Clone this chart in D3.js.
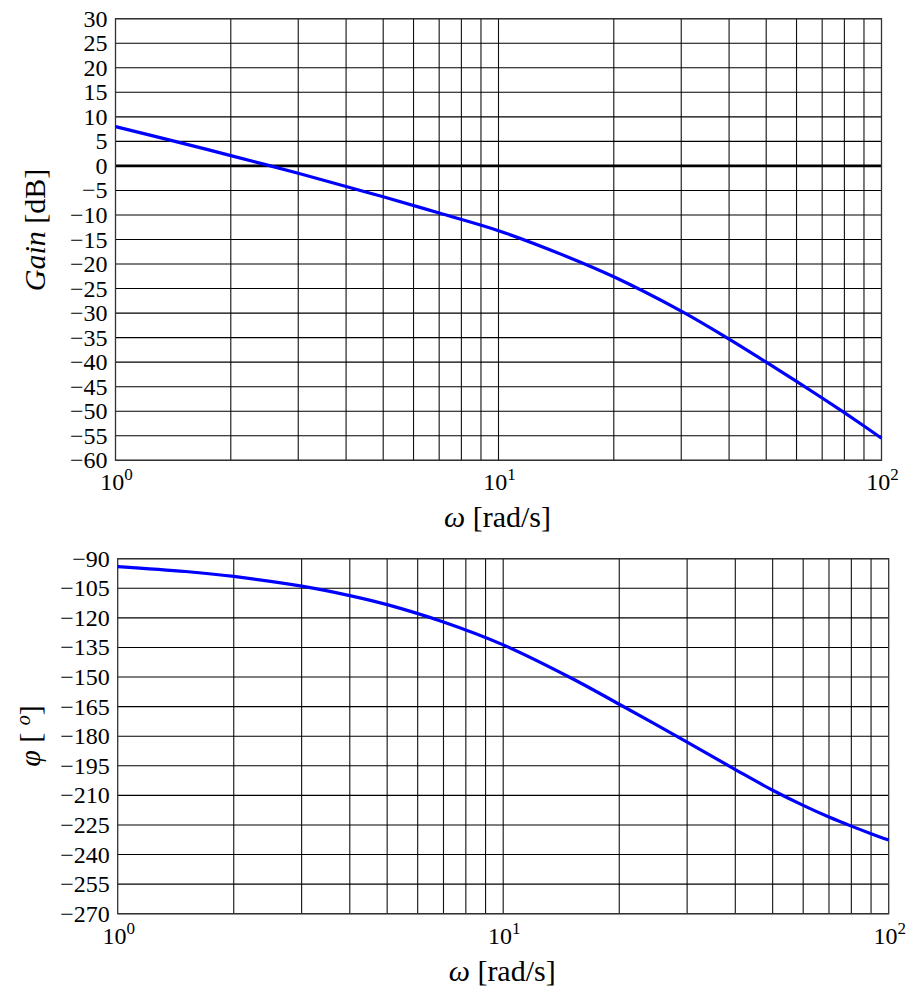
<!DOCTYPE html>
<html>
<head>
<meta charset="utf-8">
<script src="https://cdn.jsdelivr.net/npm/d3@7"></script>
<style>
  body { margin: 0; background: #fff; }
  svg text { font-family: "Liberation Serif", "DejaVu Serif", serif; fill: #000; }
</style>
</head>
<body>
<svg id="chart" width="906" height="988"></svg>
<script>
// values
var omega = [1, 1.5, 2, 3, 4, 5, 7, 10, 15, 20, 30, 40, 50, 60, 70, 80, 90, 100];
var gainDb = [8.0, 4.6, 2.1, -1.5, -4.2, -6.3, -9.6, -13.2, -18.4, -22.6, -29.6, -35.3, -40.0, -43.9, -47.3, -50.3, -53.0, -55.5];
var phaseDeg = [-94, -96.5, -99.0, -103.9, -108.7, -113.3, -122.1, -133.7, -150.5, -163.8, -183.0, -196.9, -207.4, -215.1, -221.0, -225.6, -229.4, -232.6];

var gainTicks = [30, 25, 20, 15, 10, 5, 0, -5, -10, -15, -20, -25, -30, -35, -40, -45, -50, -55, -60];
var phaseTicks = [-90, -105, -120, -135, -150, -165, -180, -195, -210, -225, -240, -255, -270];
var decades = [1, 10, 100];
var decadeExp = ["0", "1", "2"];
var gridFreqs = [2, 3, 4, 5, 6, 7, 8, 9, 10, 20, 30, 40, 50, 60, 70, 80, 90];

var svg = d3.select("#chart");
var minus = function(v) { return v < 0 ? "\u2212" + Math.abs(v) : "" + v; };

function panel(box, yDomain, yTicks, yVals, yLabel, zeroLine) {
  var x = d3.scaleLog().domain([1, 100]).range([box.left, box.right]);
  var y = d3.scaleLinear().domain(yDomain).range([box.bottom, box.top]);
  var g = svg.append("g");

  // grid
  g.selectAll(".vg").data(gridFreqs).enter().append("line")
    .attr("x1", function(d) { return x(d); }).attr("x2", function(d) { return x(d); })
    .attr("y1", box.top).attr("y2", box.bottom)
    .attr("stroke", "#111").attr("stroke-width", 1.1);
  g.selectAll(".hg").data(yTicks).enter().append("line")
    .attr("x1", box.left).attr("x2", box.right)
    .attr("y1", function(d) { return y(d); }).attr("y2", function(d) { return y(d); })
    .attr("stroke", "#000").attr("stroke-width", 1.1);

  if (zeroLine) {
    g.append("line").attr("x1", box.left).attr("x2", box.right)
      .attr("y1", y(0)).attr("y2", y(0))
      .attr("stroke", "#000").attr("stroke-width", 2.6);
  }

  // frame
  g.append("rect").attr("x", box.left).attr("y", box.top)
    .attr("width", box.right - box.left).attr("height", box.bottom - box.top)
    .attr("fill", "none").attr("stroke", "#333").attr("stroke-width", 1.3);

  // curve
  var line = d3.line()
    .x(function(d, i) { return x(omega[i]); })
    .y(function(d) { return y(d); })
    .curve(d3.curveCatmullRom.alpha(0.5));
  g.append("path").datum(yVals).attr("d", line)
    .attr("fill", "none").attr("stroke", "#0000ff").attr("stroke-width", 3.2);

  // y tick labels
  g.selectAll(".yt").data(yTicks).enter().append("text")
    .attr("x", box.left - 8).attr("y", function(d) { return y(d) + 8; })
    .attr("text-anchor", "end").style("font-size", "24px")
    .text(minus);

  // x tick labels
  var xt = g.selectAll(".xt").data(decades).enter().append("text")
    .attr("x", function(d) { return x(d) + 1; }).attr("y", box.bottom + 30)
    .attr("text-anchor", "middle").style("font-size", "24px");
  xt.append("tspan").text("10");
  xt.append("tspan").attr("dy", -10).style("font-size", "17px")
    .text(function(d, i) { return decadeExp[i]; });

  // x axis title
  var xl = g.append("text").attr("x", (box.left + box.right) / 2 - 1).attr("y", box.bottom + 67)
    .attr("text-anchor", "middle").style("font-size", "30px");
  xl.append("tspan").style("font-style", "italic").text("\u03c9");
  xl.append("tspan").text(" [rad/s]");

  // y axis title
  var yl = g.append("text")
    .attr("transform", "translate(" + box.ylabX + "," + box.ylabY + ") rotate(-90)")
    .attr("text-anchor", "middle").style("font-size", "30px");
  yLabel(yl);
}

panel({left: 115.5, right: 881.5, top: 18.7, bottom: 460.3, ylabX: 45, ylabY: 230},
  [-60, 30], gainTicks, gainDb,
  function(t) {
    t.append("tspan").style("font-style", "italic").text("Gain");
    t.append("tspan").text(" [dB]");
  }, true);

panel({left: 117.7, right: 888.7, top: 558.7, bottom: 913.7, ylabX: 40, ylabY: 736},
  [-270, -90], phaseTicks, phaseDeg,
  function(t) {
    t.append("tspan").style("font-style", "italic").text("\u03c6");
    t.append("tspan").text(" [ ");
    t.append("tspan").attr("dy", -10).style("font-style", "italic").style("font-size", "20px").text("o");
    t.append("tspan").attr("dy", 10).text("]");
  }, false);
</script>
</body>
</html>
